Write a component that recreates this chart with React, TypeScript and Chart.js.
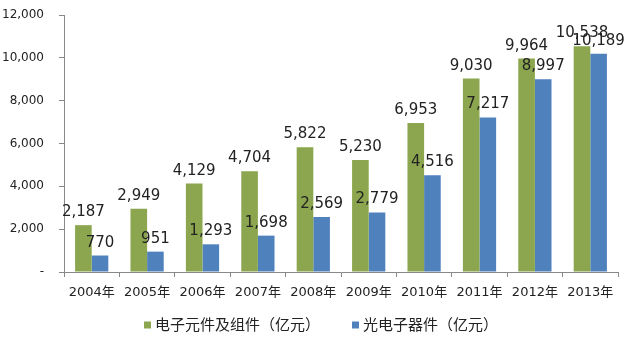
import React, { useEffect, useRef } from "react";
import { Chart, registerables } from "chart.js";

Chart.register(...registerables);

const categories = ["2004年", "2005年", "2006年", "2007年", "2008年", "2009年", "2010年", "2011年", "2012年", "2013年"];
const seriesNames = ["电子元件及组件（亿元）", "光电子器件（亿元）"];
const componentsValues = [2187, 2949, 4129, 4704, 5822, 5230, 6953, 9030, 9964, 10538];
const optoValues = [770, 951, 1293, 1698, 2569, 2779, 4516, 7217, 8997, 10189];
const yTicks = [0, 2000, 4000, 6000, 8000, 10000, 12000];
const colors = ["#8BA64E", "#4F81BD"];

const FONT = "'DejaVu Sans', 'Noto Sans CJK SC', sans-serif";
const CJK = "'Noto Sans CJK SC', sans-serif";

const labelPlugin = {
  id: "barLabels",
  afterDatasetsDraw(chart: any) {
    const ctx = chart.ctx;
    ctx.save();
    ctx.font = `15px ${FONT}`;
    ctx.fillStyle = "#222";
    ctx.textAlign = "center";
    ctx.textBaseline = "alphabetic";
    chart.data.datasets.forEach((ds: any, i: number) => {
      const meta = chart.getDatasetMeta(i);
      meta.data.forEach((bar: any, j: number) => {
        const v = ds.data[j];
        ctx.fillText(v.toLocaleString("en-US"), bar.x, bar.y - 9);
      });
    });
    ctx.restore();
  },
};

const legendPlugin = {
  id: "customLegend",
  afterDraw(chart: any) {
    const ctx = chart.ctx;
    ctx.save();
    ctx.font = `15px ${CJK}`;
    ctx.textBaseline = "middle";
    ctx.textAlign = "left";
    const box = 7;
    const gapText = 4;
    const gapItem = 32;
    const widths = chart.data.datasets.map((ds: any) => box + gapText + ctx.measureText(ds.label).width);
    const total = widths.reduce((a: number, b: number) => a + b, 0) + gapItem * (widths.length - 1);
    let x = (chart.width - total) / 2 + 6;
    const y = 324;
    chart.data.datasets.forEach((ds: any, i: number) => {
      ctx.fillStyle = ds.backgroundColor;
      ctx.fillRect(x, y - box / 2 + 1, box, box);
      ctx.fillStyle = "#222";
      ctx.fillText(ds.label, x + box + gapText, y);
      x += widths[i] + gapItem;
    });
    ctx.restore();
  },
};

export default function App() {
  const ref = useRef<HTMLCanvasElement>(null);
  useEffect(() => {
    if (!ref.current) return;
    const chart = new Chart(ref.current, {
      type: "bar",
      data: {
        labels: categories,
        datasets: [
          { label: seriesNames[0], data: componentsValues, backgroundColor: colors[0], categoryPercentage: 0.6, barPercentage: 1 },
          { label: seriesNames[1], data: optoValues, backgroundColor: colors[1], categoryPercentage: 0.6, barPercentage: 1 },
        ],
      },
      options: {
        animation: false,
        responsive: false,
        layout: { autoPadding: false, padding: { top: 15, right: 12, left: 0, bottom: 33 } },
        plugins: {
          tooltip: { enabled: false },
          legend: { display: false },
        },
        scales: {
          x: {
            grid: { drawOnChartArea: false, drawTicks: true, tickLength: 5, color: "#888", offset: true },
            border: { color: "#888" },
            ticks: { color: "#222", font: { size: 13, family: FONT }, padding: 8, maxRotation: 0 },
            afterFit(scale: any) {
              scale.height = 33;
              scale.paddingTop = 0;
              scale.paddingBottom = 0;
            },
          },
          y: {
            min: 0,
            max: 12000,
            afterBuildTicks(scale: any) {
              scale.ticks = yTicks.map((v) => ({ value: v }));
            },
            grid: { drawOnChartArea: false, drawTicks: true, tickLength: 5, color: "#888" },
            border: { color: "#888" },
            ticks: {
              color: "#222",
              font: { size: 12, family: FONT },
              padding: 15,
              callback: (v: any) => (Number(v) === 0 ? "-" : Number(v).toLocaleString("en-US")),
            },
            afterFit(scale: any) {
              scale.width = 64;
              scale.paddingTop = 0;
              scale.paddingBottom = 0;
            },
          },
        },
      },
      plugins: [labelPlugin, legendPlugin],
    });
    return () => chart.destroy();
  }, []);
  return (
    <div style={{ position: "absolute", left: 0, top: 0, width: 630, height: 338, background: "#fff" }}>
      <canvas ref={ref} width={630} height={338} style={{ width: 630, height: 338 }} />
    </div>
  );
}
